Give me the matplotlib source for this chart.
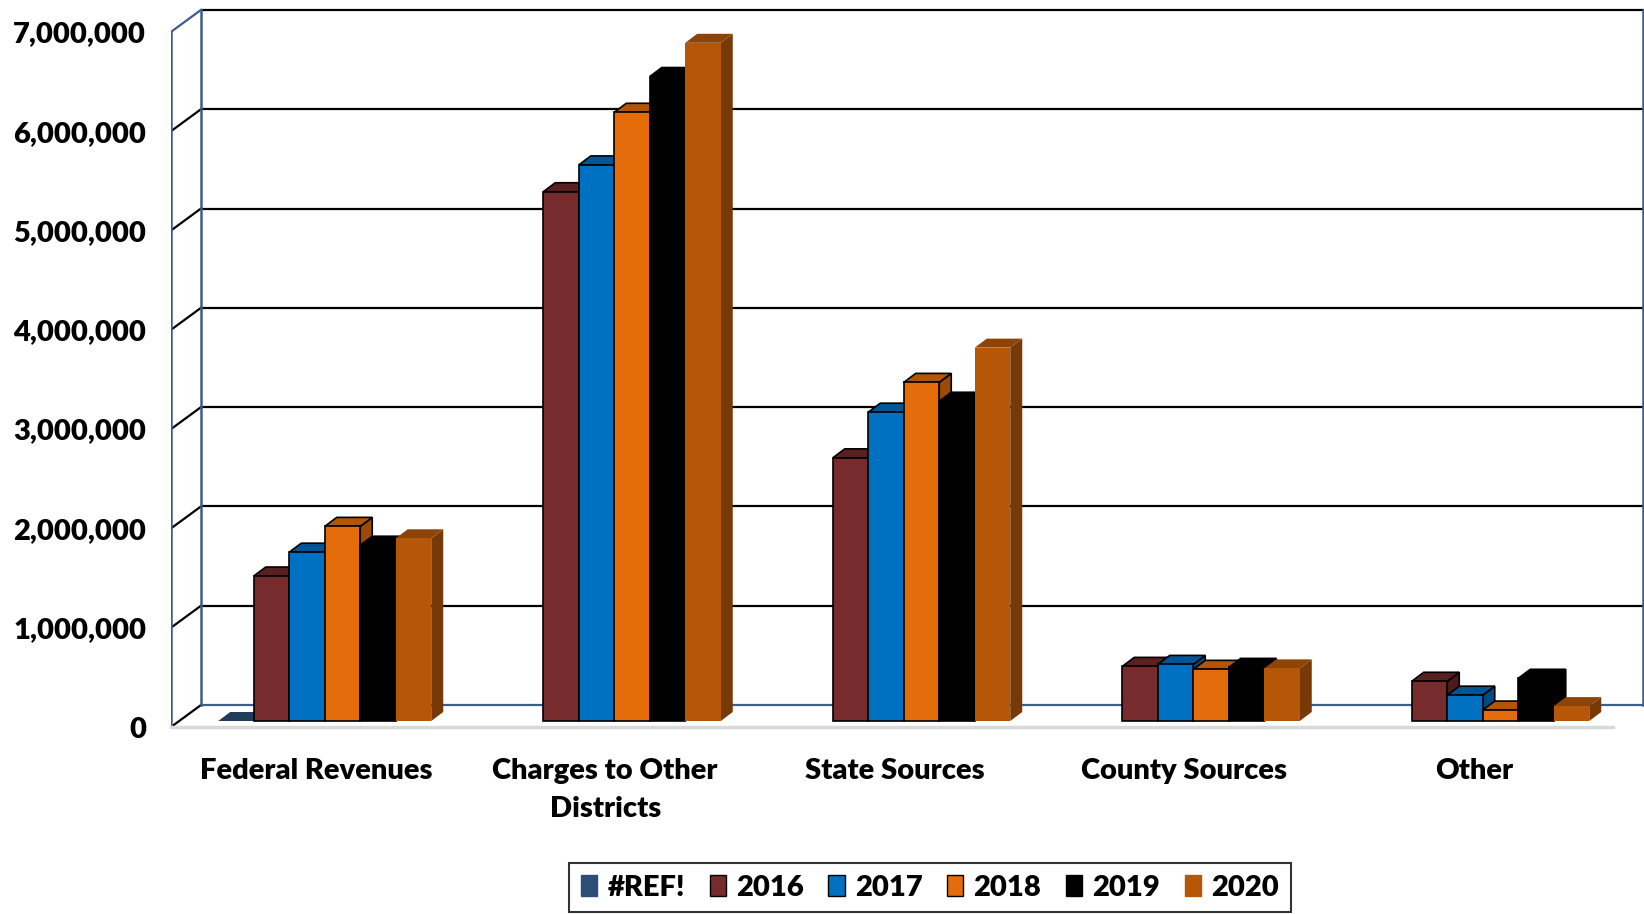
import numpy as np
import matplotlib.pyplot as plt
from matplotlib.patches import Polygon, Patch
from matplotlib.ticker import FuncFormatter

plt.rcParams['font.family'] = ['Lato', 'DejaVu Sans']
plt.rcParams['font.weight'] = 'heavy'

# -----------------------------
# data
# -----------------------------
categories = ["Federal Revenues", "Charges to Other\nDistricts", "State Sources",
              "County Sources", "Other"]
series_names = ["#REF!", "2016", "2017", "2018", "2019", "2020"]

vals_ref = [0, np.nan, np.nan, np.nan, np.nan]
vals_2016 = [1_460_000, 5_330_000, 2_650_000, 550_000, 400_000]
vals_2017 = [1_700_000, 5_600_000, 3_110_000, 570_000, 260_000]
vals_2018 = [1_960_000, 6_130_000, 3_410_000, 520_000, 110_000]
vals_2019 = [1_770_000, 6_490_000, 3_220_000, 540_000, 430_000]
vals_2020 = [1_840_000, 6_830_000, 3_760_000, 530_000, 150_000]
all_vals = [vals_ref, vals_2016, vals_2017, vals_2018, vals_2019, vals_2020]

y_ticks = [0, 1_000_000, 2_000_000, 3_000_000, 4_000_000, 5_000_000, 6_000_000, 7_000_000]

# face / top / side colours and whether the bar has a black outline
face_cols = ["#2C4D75", "#772B2C", "#0070C0", "#E46C0A", "#000000", "#B65708"]
top_cols = ["#203A5A", "#5A2021", "#005596", "#B35507", "#000000", "#8E4406"]
side_cols = ["#1B3150", "#4E1B1C", "#004B84", "#9C4A06", "#000000", "#773905"]
outlined = [False, True, True, True, True, False]

# -----------------------------
# figure / axes geometry (pixels)
# -----------------------------
W, H = 1644, 914
x_left, y_floor = 171, 727
px_cat = 289.5          # pixels per category
px_mil = 99.3           # pixels per 1,000,000

fig = plt.figure(figsize=(W / 100, H / 100), dpi=100)
ax = fig.add_axes([x_left / W, (H - y_floor) / H, (W - x_left) / W, y_floor / H])
xmax = (W - x_left) / px_cat
ymax = y_floor / px_mil * 1e6
ax.set_xlim(0, xmax)
ax.set_ylim(0, ymax)
for s in ax.spines.values():
    s.set_visible(False)


def off(dx, dy):
    # pixel offset -> data offset
    return dx / px_cat, dy / px_mil * 1e6


n_cat = len(categories)
wall_dx, wall_dy = off(30, 22)
floor_end = n_cat - 0.02
top_val = y_ticks[-1]
wall_blue = "#3B5E8C"

# back wall gridlines + left wall diagonals
for v in y_ticks:
    back_col = wall_blue if v == 0 else "black"
    ax.plot([wall_dx, xmax], [v + wall_dy, v + wall_dy], color=back_col, lw=1.6, zorder=1,
            solid_capstyle="butt")
    diag_col = wall_blue if v == top_val else "black"
    ax.plot([0, wall_dx], [v, v + wall_dy], color=diag_col, lw=1.6, zorder=1)

# wall edges
ax.plot([0, 0], [0, top_val], color=wall_blue, lw=1.8, zorder=1)
ax.plot([wall_dx, wall_dx], [wall_dy, top_val + wall_dy], color=wall_blue, lw=1.8, zorder=1)
ax.plot([xmax - 0.004, xmax - 0.004], [wall_dy, top_val + wall_dy], color=wall_blue, lw=1.8,
        zorder=1)
# floor front edge
ax.plot([0, floor_end], [0, 0], color="#D9D9D9", lw=2.5, zorder=1, clip_on=False)

# -----------------------------
# 3D-looking columns
# -----------------------------
bw = 35.5 / px_cat
base_dx, base_dy = off(9, 6)
dep_dx, dep_dy = off(12, 9)
n_ser = len(series_names)

for i in range(n_cat):
    g_left = i + 0.5 - n_ser * bw / 2 + base_dx
    for j in range(n_ser):
        v = all_vals[j][i]
        if np.isnan(v):
            continue
        x0 = g_left + j * bw
        x1 = x0 + bw
        b = base_dy
        t = b + v
        ec = "black" if outlined[j] else "none"
        lw = 1.2 if outlined[j] else 0
        zo = 3 + i * 10 + j
        side = [(x1, b), (x1 + dep_dx, b + dep_dy), (x1 + dep_dx, t + dep_dy), (x1, t)]
        top = [(x0, t), (x1, t), (x1 + dep_dx, t + dep_dy), (x0 + dep_dx, t + dep_dy)]
        front = [(x0, b), (x1, b), (x1, t), (x0, t)]
        ax.add_patch(Polygon(side, closed=True, fc=side_cols[j], ec=ec, lw=lw, zorder=zo,
                             joinstyle="miter"))
        ax.add_patch(Polygon(top, closed=True, fc=top_cols[j], ec=ec, lw=lw, zorder=zo,
                             joinstyle="miter"))
        if v > 0:
            ax.add_patch(Polygon(front, closed=True, fc=face_cols[j], ec=ec, lw=lw, zorder=zo,
                                 joinstyle="miter"))

# -----------------------------
# axes labels
# -----------------------------
ax.set_yticks(y_ticks)
ax.yaxis.set_major_formatter(FuncFormatter(lambda v, p: f"{v:,.0f}"))
ax.tick_params(axis="y", length=0, pad=18, labelsize=21)
ax.set_xticks([i + 0.5 for i in range(n_cat)])
ax.set_xticklabels(categories)
ax.tick_params(axis="x", length=0, pad=22, labelsize=21)
for lbl in ax.get_xticklabels():
    lbl.set_linespacing(1.6)
for lbl in ax.get_xticklabels() + ax.get_yticklabels():
    lbl.set_fontweight("heavy")

# -----------------------------
# legend
# -----------------------------
handles = [Patch(fc=face_cols[j], ec=("black" if j in (1, 2, 3) else face_cols[j]), lw=1.0,
                 label=series_names[j]) for j in range(n_ser)]
leg = fig.legend(handles=handles, loc="upper center", bbox_to_anchor=(930 / W, 1 - 863 / H),
                 ncol=n_ser, frameon=True, fancybox=False, borderaxespad=0,
                 prop={"size": 21, "weight": "heavy"}, handlelength=0.55, handleheight=0.7,
                 handletextpad=0.35, columnspacing=0.85, borderpad=0.4)
leg.get_frame().set_edgecolor("black")
leg.get_frame().set_linewidth(1.5)

fig.savefig("out.png", dpi=100)
